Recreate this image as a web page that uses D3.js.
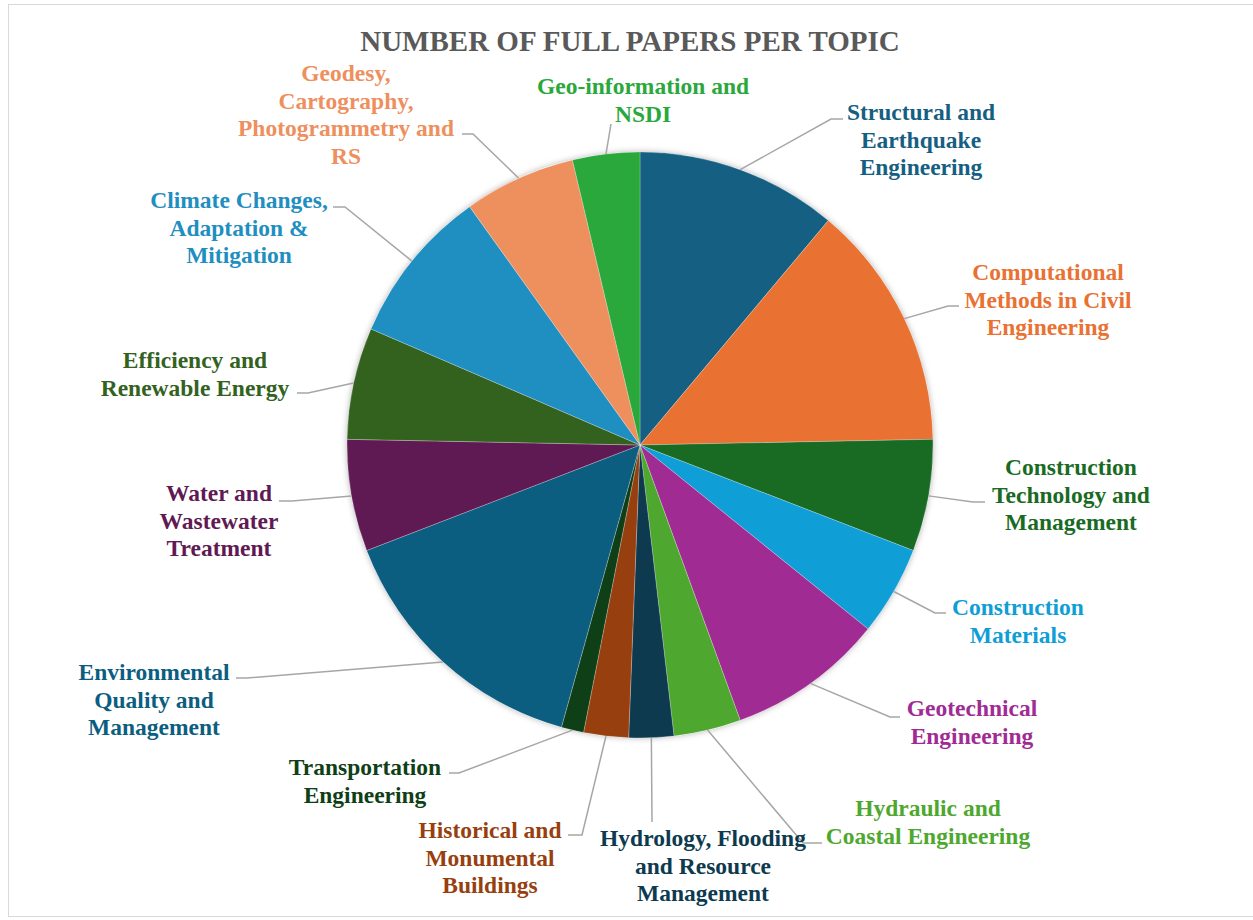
<!DOCTYPE html>
<html>
<head>
<meta charset="utf-8">
<script src="https://cdn.jsdelivr.net/npm/d3@7"></script>
<style>
  html, body { margin: 0; padding: 0; background: #fff; }
  svg { display: block; }
</style>
</head>
<body>
<svg id="chart" width="1253" height="920"></svg>
<script>
// ---- data ----
const categories = [
  "Structural and Earthquake Engineering",
  "Computational Methods in Civil Engineering",
  "Construction Technology and Management",
  "Construction Materials",
  "Geotechnical Engineering",
  "Hydraulic and Coastal Engineering",
  "Hydrology, Flooding and Resource Management",
  "Historical and Monumental Buildings",
  "Transportation Engineering",
  "Environmental Quality and Management",
  "Water and Wastewater Treatment",
  "Efficiency and Renewable Energy",
  "Climate Changes, Adaptation & Mitigation",
  "Geodesy, Cartography, Photogrammetry and RS",
  "Geo-information and NSDI"
];
const values = [9, 11, 5, 4, 7, 3, 2, 2, 1, 12, 5, 5, 7, 5, 3];
const labelLines = [
  ["Structural and", "Earthquake", "Engineering"],
  ["Computational", "Methods in Civil", "Engineering"],
  ["Construction", "Technology and", "Management"],
  ["Construction", "Materials"],
  ["Geotechnical", "Engineering"],
  ["Hydraulic and", "Coastal Engineering"],
  ["Hydrology, Flooding", "and Resource", "Management"],
  ["Historical and", "Monumental", "Buildings"],
  ["Transportation", "Engineering"],
  ["Environmental", "Quality and", "Management"],
  ["Water and", "Wastewater", "Treatment"],
  ["Efficiency and", "Renewable Energy"],
  ["Climate Changes,", "Adaptation &", "Mitigation"],
  ["Geodesy,", "Cartography,", "Photogrammetry and", "RS"],
  ["Geo-information and", "NSDI"]
];
const title = "NUMBER OF FULL PAPERS PER TOPIC";

// ---- styles / layout ----
const colors = ["#156082", "#E97132", "#196B24", "#0F9ED5", "#A02B93", "#4EA72E",
  "#0D3A4F", "#983F10", "#0F3F16", "#0B5E80", "#5F1A54", "#33621F",
  "#1F8EC0", "#EE8F5E", "#2AA83C"];
// label layout: centre x, first line centre y, leader elbow x/y, leader end x
const labelLayout = [
  {cx: 921, y0: 112, ex: 831, ey: 119, hx: 843},
  {cx: 1048, y0: 272, ex: 948, ey: 306, hx: 959},
  {cx: 1071, y0: 467, ex: 973, ey: 502, hx: 985},
  {cx: 1018, y0: 607, ex: 935, ey: 613, hx: 946},
  {cx: 972, y0: 708, ex: 890, ey: 717, hx: 900},
  {cx: 928, y0: 808, ex: 803, ey: 843, hx: 822},
  {cx: 703, y0: 838, ex: 652, ey: 822, hx: 652},
  {cx: 490, y0: 830, ex: 582, ey: 835, hx: 568},
  {cx: 365, y0: 767, ex: 459, ey: 773, hx: 449},
  {cx: 154, y0: 672, ex: 247, ey: 678, hx: 236},
  {cx: 219, y0: 493, ex: 292, ey: 501, hx: 279},
  {cx: 195, y0: 360, ex: 308, ey: 393, hx: 297},
  {cx: 239, y0: 200, ex: 345, ey: 207, hx: 333},
  {cx: 346, y0: 73, ex: 473, ey: 134, hx: 462},
  {cx: 643, y0: 86, ex: 611, ey: 124, hx: 611}
];
const cx = 640, cy = 445, radius = 293;
const fontFamily = "'Liberation Serif', 'Times New Roman', serif";
const labelSize = 23.5, lineStep = 27.5;

const svg = d3.select("#chart");

// border
svg.append("rect").attr("x", 8.5).attr("y", 4.5).attr("width", 1260).attr("height", 912)
  .attr("fill", "none").attr("stroke", "#D9D9D9").attr("stroke-width", 1);

// title
svg.append("text").attr("x", 630).attr("y", 51)
  .attr("text-anchor", "middle")
  .attr("font-family", fontFamily).attr("font-weight", "bold")
  .attr("font-size", 29).attr("fill", "#595959")
  .text(title);

// shadow filter
const defs = svg.append("defs");
const f = defs.append("filter").attr("id", "shadow").attr("x", "-10%").attr("y", "-10%")
  .attr("width", "120%").attr("height", "120%");
f.append("feDropShadow").attr("dx", 0).attr("dy", 0).attr("stdDeviation", 3)
  .attr("flood-color", "#000").attr("flood-opacity", 0.3);

const pie = d3.pie().sort(null).value(d => d).startAngle(0).endAngle(2 * Math.PI);
const arcs = pie(values);
const arc = d3.arc().innerRadius(0).outerRadius(radius);

const g = svg.append("g").attr("transform", `translate(${cx},${cy})`);
g.append("circle").attr("r", radius).attr("fill", "#fff").attr("filter", "url(#shadow)");
g.selectAll("path.slice").data(arcs).enter().append("path")
  .attr("class", "slice")
  .attr("d", arc)
  .attr("fill", (d, i) => colors[i])
  .attr("stroke", "#fff").attr("stroke-width", 0.4).attr("stroke-opacity", 0.6);

// leader lines
const leaders = svg.append("g");
arcs.forEach((d, i) => {
  const a = (d.startAngle + d.endAngle) / 2;
  const sx = cx + radius * Math.sin(a), sy = cy - radius * Math.cos(a);
  const L = labelLayout[i];
  leaders.append("polyline")
    .attr("points", `${sx},${sy} ${L.ex},${L.ey} ${L.hx},${L.ey}`)
    .attr("fill", "none").attr("stroke", "#A6A6A6").attr("stroke-width", 1.5);
});

// labels
const labels = svg.append("g");
labelLines.forEach((lines, i) => {
  const L = labelLayout[i];
  const t = labels.append("text")
    .attr("text-anchor", "middle")
    .attr("font-family", fontFamily).attr("font-weight", "bold")
    .attr("font-size", labelSize).attr("fill", colors[i]);
  lines.forEach((ln, k) => {
    t.append("tspan").attr("x", L.cx).attr("y", L.y0 + k * lineStep + 8).text(ln);
  });
});
</script>
</body>
</html>
